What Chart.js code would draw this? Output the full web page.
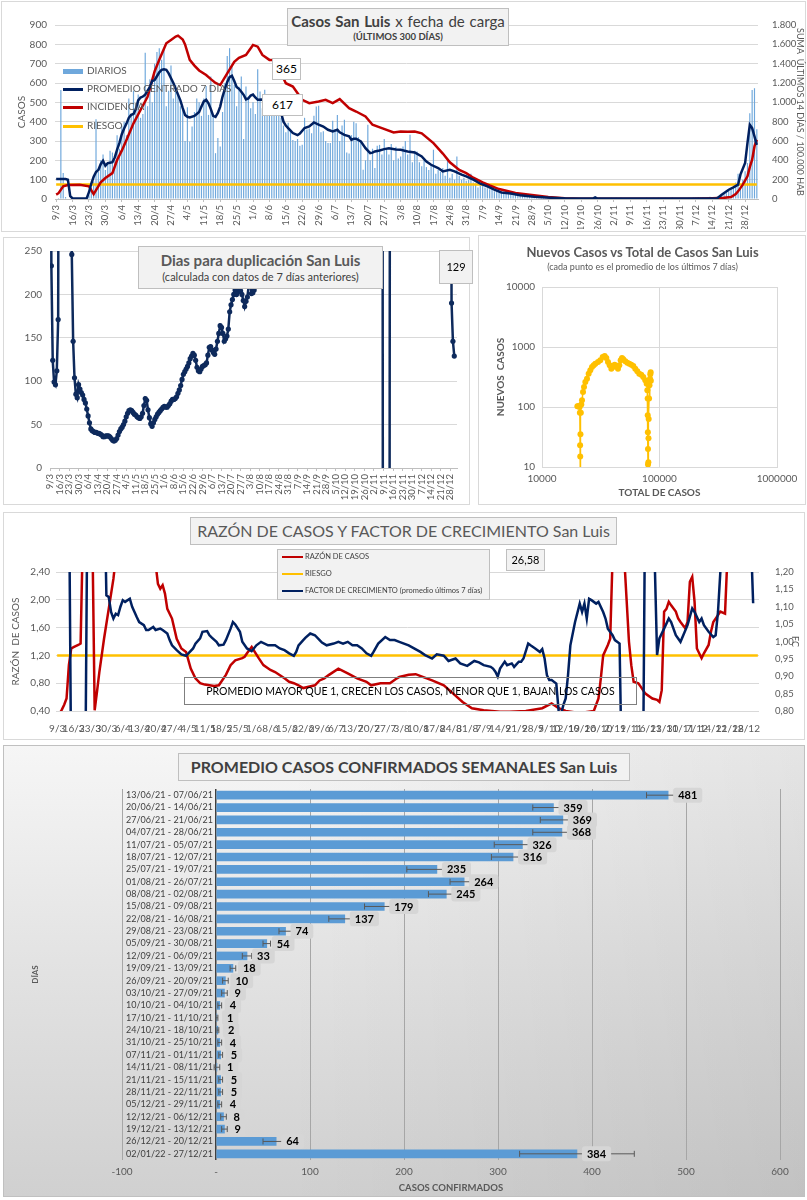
<!DOCTYPE html>
<html>
<head>
<meta charset="utf-8">
<title>Casos San Luis</title>
<script src="https://cdn.jsdelivr.net/npm/chart.js@4.4.0/dist/chart.umd.min.js"></script>
<style>
body{margin:0;width:807px;height:1200px;background:#fff;position:relative;overflow:hidden;font-family:Lato,"Liberation Sans",sans-serif;}
canvas{position:absolute;}
.frame{position:absolute;border:1px solid #d9d9d9;box-sizing:border-box;}
.box{position:absolute;background:#f2f2f2;border:1px solid #bfbfbf;box-sizing:border-box;text-align:center;color:#404040;white-space:nowrap;}
.leg{position:absolute;font-size:10px;color:#595959;white-space:nowrap;}
.sw{position:absolute;}
</style>
</head>
<body>

<div class="frame" style="left:1px;top:1px;width:805px;height:231px"></div>
<div class="frame" style="left:3px;top:237px;width:467px;height:268px"></div>
<div class="frame" style="left:478px;top:235px;width:328px;height:270px"></div>
<div class="frame" style="left:3px;top:512px;width:802px;height:228px"></div>
<div class="frame" style="left:3px;top:745px;width:802px;height:452px;border-color:#c0c0c0;background:linear-gradient(90deg,rgba(0,0,0,0) 35%,rgba(0,0,0,0.07) 100%),linear-gradient(180deg,#f6f6f6 0%,#e4e4e4 45%,#d0d0d0 100%)"></div>

<canvas id="c1" width="807" height="232" style="left:0;top:0"></canvas>
<canvas id="c2" width="467" height="268" style="left:3px;top:237px"></canvas>
<canvas id="c3" width="329" height="270" style="left:478px;top:235px"></canvas>
<canvas id="c4" width="802" height="228" style="left:3px;top:512px"></canvas>
<canvas id="c5" width="802" height="452" style="left:3px;top:745px"></canvas>

<!-- panel 1 -->
<div class="box" style="left:287px;top:8px;width:222px;height:38px">
  <div style="font-size:15px;line-height:19px;margin-top:3px;word-spacing:1px"><b>Casos San Luis</b> x fecha de carga</div>
  <div style="font-size:9.5px;font-weight:bold;line-height:12px">(ÚLTIMOS 300 DÍAS)</div>
</div>
<div class="box" style="left:272px;top:58px;width:29px;height:22px;background:#fff;color:#000;font-size:12px;line-height:20px">365</div>
<div class="box" style="left:262px;top:94px;width:41px;height:22px;background:#fff;color:#000;font-size:12px;line-height:20px">617</div>
<div class="sw" style="left:63px;top:69px;width:20px;height:5px;background:#6fa8dc"></div>
<div class="leg" style="left:87px;top:64px">DIARIOS</div>
<div class="sw" style="left:63px;top:88px;width:20px;height:3px;background:#002060"></div>
<div class="leg" style="left:87px;top:82px">PROMEDIO CENTRADO 7 DÍAS</div>
<div class="sw" style="left:63px;top:106px;width:20px;height:3px;background:#c00000"></div>
<div class="leg" style="left:87px;top:100px">INCIDENCIA</div>
<div class="sw" style="left:63px;top:125px;width:20px;height:3px;background:#ffc000"></div>
<div class="leg" style="left:87px;top:119px">RIESGO</div>

<!-- panel 2 -->
<div class="box" style="left:138px;top:246px;width:245px;height:43px;color:#595959">
  <div style="font-size:15px;font-weight:bold;line-height:20px;margin-top:3px">Dias para duplicación San Luis</div>
  <div style="font-size:11px;line-height:14px;color:#404040">(calculada con datos de 7 días anteriores)</div>
</div>
<div class="box" style="left:439px;top:250px;width:34px;height:34px;color:#000;font-size:11px;line-height:32px">129</div>

<!-- panel 3 -->
<div style="position:absolute;left:478px;top:243px;width:329px;text-align:center;color:#595959">
  <div style="font-size:13px;font-weight:bold;line-height:18px">Nuevos Casos vs Total de Casos San Luis</div>
  <div style="font-size:9px;line-height:12px">(cada punto es el promedio de los últimos 7 días)</div>
</div>

<!-- panel 4 -->
<div class="box" style="left:190px;top:517px;width:427px;height:28px;color:#595959;font-size:16px;line-height:26px">RAZÓN DE CASOS Y FACTOR DE CRECIMIENTO San Luis</div>
<div class="box" style="left:277px;top:549px;width:213px;height:51px"></div>
<div class="sw" style="left:282px;top:556px;width:21px;height:2px;background:#c00000"></div>
<div class="leg" style="left:305px;top:552px;font-size:7.5px;color:#404040">RAZÓN DE CASOS</div>
<div class="sw" style="left:282px;top:573px;width:21px;height:2px;background:#ffc000"></div>
<div class="leg" style="left:305px;top:569px;font-size:7.5px;color:#404040">RIESGO</div>
<div class="sw" style="left:282px;top:590px;width:21px;height:2px;background:#002060"></div>
<div class="leg" style="left:305px;top:586px;font-size:7.5px;color:#404040">FACTOR DE CRECIMIENTO (promedio últimos 7 días)</div>
<div class="box" style="left:506px;top:549px;width:39px;height:22px;color:#000;font-size:11px;line-height:20px">26,58</div>
<div class="box" style="left:184px;top:677px;width:453px;height:28px;background:transparent;border-color:#7f7f7f;color:#000;font-size:10.5px;line-height:26px">PROMEDIO MAYOR QUE 1, CRECEN LOS CASOS, MENOR QUE 1, BAJAN LOS CASOS</div>

<!-- panel 5 -->
<div class="box" style="left:178px;top:753px;width:452px;height:28px;font-size:16px;font-weight:bold;line-height:26px">PROMEDIO CASOS CONFIRMADOS SEMANALES San Luis</div>

<script>
// etiquetas semanales del eje x (cada 7 dias desde el 9/3)
const semanasEje = ['9/3','16/3','23/3','30/3','6/4','13/4','20/4','27/4','4/5','11/5','18/5','25/5','1/6','8/6','15/6','22/6','29/6','6/7','13/7','20/7','27/7','3/8','10/8','17/8','24/8','31/8','7/9','14/9','21/9','28/9','5/10','12/10','19/10','26/10','2/11','9/11','16/11','23/11','30/11','7/12','14/12','21/12','28/12'];

// casos diarios (ultimos 300 dias)
const diarios = [
  0,5,564,134,10,0,0,
  0,0,0,0,0,0,0,
  20,60,90,413,140,200,230,
  150,180,250,240,200,330,260,
  380,400,330,520,430,560,470,
  540,420,440,757,480,620,500,
  700,760,780,720,771,480,560,
  690,520,590,540,480,470,300,
  475,298,375,450,520,500,430,
  520,585,435,633,430,237,315,
  272,450,600,740,780,685,590,
  480,580,633,310,582,530,470,
  500,440,671,556,470,565,430,
  520,480,440,510,430,420,380,
  345,395,360,305,300,310,275,
  280,420,360,365,340,430,478,
  482,345,350,300,290,290,405,
  360,435,300,380,410,240,235,
  330,400,392,320,300,151,200,
  384,200,260,160,275,280,230,
  310,260,230,285,200,270,210,
  220,272,300,230,332,190,250,
  246,190,170,200,165,150,180,
  255,130,150,140,160,120,212,
  110,130,100,220,120,100,110,
  95,100,130,85,80,60,75,
  70,60,55,50,65,40,45,
  35,30,28,40,25,30,20,
  25,20,30,15,18,12,10,
  10,12,8,15,6,8,5,
  9,6,5,3,7,2,4,
  3,2,4,1,3,2,1,
  2,1,3,0,2,1,2,
  3,6,2,5,4,3,6,
  5,7,4,6,3,5,1,
  2,0,1,2,1,0,4,
  6,5,4,7,3,6,5,
  4,6,5,3,7,4,5,
  3,5,4,2,6,4,7,
  8,10,6,9,7,8,11,
  7,9,12,8,20,30,35,
  45,50,60,85,130,60,100,
  143,186,444,564,573,361
];

// promedio centrado 7 dias (dia, valor)
const promDia = [0,4,5,6,7,13,14,15,16,17,18,19,20,21,22,24,25,26,27,28,29,30,31,32,33,34,35,36,37,38,40,41,42,43,44,45,46,47,48,50,52,53,54,55,56,57,59,60,61,62,63,64,65,66,67,68,69,70,71,72,73,74,75,76,77,78,79,80,81,82,83,84,85,86,88,90,92,94,96,97,98,99,101,103,104,106,108,110,112,114,116,118,120,121,123,125,126,127,128,130,132,134,135,136,138,140,142,145,147,150,153,156,158,160,163,165,168,170,173,175,178,181,184,187,190,194,198,204,211,218,229,230,231,278,282,284,287,289,291,292,294,295,296,297,298,299];
const promVal = [103,103,100,15,3,3,35,80,115,140,150,180,198,172,185,190,215,255,290,335,365,390,420,435,440,465,510,525,530,540,580,610,615,635,655,668,671,668,650,600,540,510,470,435,425,422,430,440,450,478,505,513,495,465,430,425,445,478,530,570,605,630,637,610,580,570,555,539,515,520,535,540,525,513,515,510,500,470,444,400,380,367,341,330,338,367,375,396,385,375,358,350,358,345,332,324,306,312,312,298,263,237,240,246,251,258,263,256,255,246,241,220,194,177,160,143,151,143,126,117,100,79,65,48,34,28,19,12,7,3,2,8,2,2,3,22,48,60,74,126,186,289,384,367,324,280];

// incidencia: suma ultimos 14 dias / 100.000 hab (dia, valor)
const incDia = [0,1,3,5,10,14,16,19,21,24,26,28,30,33,36,39,42,44,47,49,51,52,54,55,56,57,59,61,64,66,68,70,73,76,78,81,84,86,88,91,93,96,98,101,105,108,112,115,118,121,125,128,132,135,139,144,147,150,153,156,161,165,168,172,175,178,182,185,189,196,203,210,217,224,270,280,285,288,290,291,293,295,296,297,298,299];
const incVal = [45,60,131,145,148,131,50,172,217,268,403,500,610,783,921,1058,1320,1440,1611,1645,1680,1690,1650,1600,1520,1440,1380,1330,1283,1240,1200,1179,1300,1420,1460,1490,1594,1576,1490,1439,1439,1301,1198,1163,1026,991,1008,1026,991,1033,940,905,854,768,733,688,699,695,699,680,578,470,380,300,268,220,172,140,103,62,41,21,7,2,3,8,12,20,50,79,148,234,330,406,544,613];

const riesgoDia = [0,299];
const riesgoInc = [150,150];

// dias para duplicacion (999 / -999 = fuera de escala)
const dupInicio = [
  999,233,124,99,96,112,171,999,999,999,
  999,999,999,999,999,999,246,146,104,85,
  81,96,91,87,84,79,75,68,60,52,
  45,43,42,41,41,40,40,39,38,36,
  36,37,37,37,36,34,32,31,32,34,
  38,42,45,47,50,54,59,63,66,67,
  66,64,62,61,59,58,57,59,63,72,
  80,78,67,58,51,48,52,56,59,62,
  64,66,68,70,71,70,70,72,74,77,
  79,79,80,82,86,90,95,102,108,111,
  114,117,121,126,129,132,130,124,116,112,
  111,114,117,118,119,121,130,139,140,136,
  133,131,137,146,155,164,162,155,146,149,
  152,160,180,188,194,200,205,200,203,205,
  204,200,193,186,192,197,210,215,201,202,
  205,215,230,245,999
];
const dupFinDia = [244,245,249,250,294,295,296,297];
const dupFinVal = [999,-999,-999,999,999,190,146,129];

// nuevos casos vs total (promedio 7 dias)
const totales = [20000,20300,20600,20900,21000,21100,21150,21200,21250,21400,21600,21890,22340,22780,23380,24150,24950,25770,26640,27530,28430,29970,31370,32840,34150,35280,36450,37660,38910,40180,41500,42920,44330,45500,46720,47960,49210,51170,53210,55330,57540,59830,62210,64700,67270,69950,72740,75640,77770,78800,79300,79400,79600,79800,79850,80000,80300,80400,80600,80900,81500,82200,83000,83500,84100,84400];
const nuevos = [103,103,103,100,80,23,15,3,35,80,110,129,178,215,261,297,359,409,464,495,527,562,600,681,708,656,562,495,435,464,508,482,435,495,600,656,623,577,548,527,508,482,435,393,359,346,316,278,245,190,138,73,38,20,11,5,3,12,30,63,138,230,297,350,380,274];

// razon de casos (eje izq) y factor de crecimiento (eje der)
const razonDia = [0,2,3,4,5,6,7,9,10,11,15,16,17,18,20,22,24,25,41,43,44,45,46,47,49,51,53,55,57,59,61,63,65,67,69,72,74,76,79,80,81,83,86,88,91,93,97,99,101,103,105,110,112,114,116,120,124,128,132,134,138,142,145,146,150,153,156,160,165,169,173,177,182,189,193,200,207,211,214,217,223,229,231,232,233,235,236,237,242,243,244,245,246,248,249,251,254,256,257,258,259,260,261,262,264,265,266,268,269,270,271,272,273,275,276,278,279,280,282,283,285,286,299];
const razonVal = [0.3,0.42,0.49,0.58,1.06,1.30,1.32,1.35,1.37,3,3,0.41,0.68,0.96,1.44,1.87,2.30,2.6,2.8,2.23,2.16,2.21,2.09,1.87,1.73,1.44,1.30,1.25,1.01,0.87,0.80,0.78,0.77,0.76,0.77,0.92,1.06,1.13,1.16,1.18,1.23,1.32,1.16,1.06,0.99,0.96,0.87,0.82,0.80,0.77,0.73,0.77,0.84,0.87,0.92,1.01,0.94,0.87,0.82,0.77,0.80,0.80,0.87,0.89,0.92,0.93,0.89,0.84,0.77,0.65,0.53,0.44,0.41,0.39,0.39,0.40,0.44,0.51,0.44,0.40,0.37,0.40,0.58,0.87,1.20,1.35,1.44,2.6,2.6,2.0,1.4,1.06,0.82,0.80,0.75,0.65,0.58,0.56,0.53,0.70,1.83,1.87,1.97,1.92,1.83,1.73,1.68,1.59,1.68,2.26,2.33,1.97,1.30,1.16,1.23,1.35,1.54,1.68,1.78,1.83,1.80,2.6,3];
const fcDia = [0,5,6,12,13,20,21,22,23,24,25,26,27,28,29,31,32,33,34,35,37,38,39,41,42,44,45,47,48,49,51,53,55,56,58,59,61,62,64,65,66,68,69,71,72,74,75,76,78,79,81,83,85,87,90,93,95,97,99,101,102,103,105,106,108,110,112,113,115,118,120,122,124,126,128,130,132,134,135,137,140,142,144,146,150,155,157,160,162,165,167,170,172,175,178,180,182,185,186,187,188,189,191,192,194,195,197,198,199,201,202,204,206,207,208,209,210,211,213,214,215,216,217,218,219,221,223,224,225,226,227,228,230,231,233,234,235,237,238,240,241,242,250,251,254,256,257,259,261,262,264,266,269,271,272,274,275,276,278,280,281,282,283,284,295,297];
const fcVal = [1.5,1.5,0.6,0.6,1.5,1.5,1.133,1.128,1.085,1.066,1.08,1.076,1.10,1.119,1.114,1.123,1.10,1.085,1.07,1.056,1.047,1.033,1.033,1.042,1.033,1.037,1.033,1.023,1.004,0.989,0.975,0.963,0.959,0.966,0.98,0.994,1.009,1.028,1.03,1.018,1.011,0.999,0.989,0.991,1.004,1.037,1.056,1.049,1.028,0.999,0.98,0.972,0.989,0.999,0.989,0.989,0.98,0.975,0.966,0.959,0.97,0.989,1.004,1.011,1.023,1.018,1.004,0.997,0.989,0.994,0.999,0.994,0.999,0.989,0.989,0.98,0.966,0.959,0.97,0.994,1.013,1.004,1.004,0.999,0.989,0.97,0.961,0.951,0.963,0.959,0.944,0.951,0.937,0.93,0.944,0.94,0.932,0.927,0.922,0.913,0.899,0.922,0.942,0.932,0.937,0.927,0.942,0.942,0.951,0.994,0.989,0.98,0.97,0.978,0.951,0.903,0.889,0.889,0.879,0.80,0.79,0.817,0.836,0.903,0.989,1.056,1.109,1.085,1.109,1.066,1.123,1.119,1.109,1.114,1.085,1.066,1.037,1.018,1.004,0.994,0.6,0.6,0.6,1.5,1.5,0.961,1.009,1.037,1.066,1.056,1.018,0.999,1.047,1.095,1.085,1.056,1.066,1.047,1.028,1.013,1.018,1.085,1.2,1.5,1.5,1.11];
const riesgoRazon = [1.2,1.2];

// promedio semanal de casos confirmados
const semanas = ['13/06/21 - 07/06/21','20/06/21 - 14/06/21','27/06/21 - 21/06/21','04/07/21 - 28/06/21','11/07/21 - 05/07/21','18/07/21 - 12/07/21','25/07/21 - 19/07/21','01/08/21 - 26/07/21','08/08/21 - 02/08/21','15/08/21 - 09/08/21','22/08/21 - 16/08/21','29/08/21 - 23/08/21','05/09/21 - 30/08/21','12/09/21 - 06/09/21','19/09/21 - 13/09/21','26/09/21 - 20/09/21','03/10/21 - 27/09/21','10/10/21 - 04/10/21','17/10/21 - 11/10/21','24/10/21 - 18/10/21','31/10/21 - 25/10/21','07/11/21 - 01/11/21','14/11/21 - 08/11/21','21/11/21 - 15/11/21','28/11/21 - 22/11/21','05/12/21 - 29/11/21','12/12/21 - 06/12/21','19/12/21 - 13/12/21','26/12/21 - 20/12/21','02/01/22 - 27/12/21'];
const promSem = [481,359,369,368,326,316,235,264,245,179,137,74,54,33,18,10,9,4,1,2,4,5,1,5,5,4,8,9,64,384];
const errSem = [23,22,24,31,30,23,32,15,19,21,17,7,4,5,3,3,3,2,1,1,2,2,3,2,2,2,3,3,14,61];

Chart.defaults.font.family = 'Lato, "Liberation Sans", sans-serif';
Chart.defaults.color = '#595959';
Chart.defaults.animation = false;
Chart.defaults.responsive = false;
Chart.defaults.plugins.legend.display = false;
Chart.defaults.plugins.tooltip.enabled = false;

function puntos(xs, ys){ return xs.map(function(x, i){ return {x: x, y: ys[i]}; }); }
function miles(v){ return String(v).replace(/\B(?=(\d{3})+(?!\d))/g, '.'); }
function coma(v){ return v.toFixed(2).replace('.', ','); }
function ticksSemana(s){ s.ticks = semanasEje.map(function(t, i){ return {value: i * 7}; }); }
function etiquetaSemana(v, i){ return semanasEje[i]; }

// 1. casos diarios
new Chart(document.getElementById('c1'), {
  type: 'bar',
  data: {datasets: [
    {type:'line', data:puntos(promDia, promVal), borderColor:'#002060', borderWidth:2.5, pointRadius:0, yAxisID:'y', order:1},
    {type:'line', data:puntos(incDia, incVal), borderColor:'#c00000', borderWidth:2.5, pointRadius:0, yAxisID:'y1', order:2},
    {type:'line', data:puntos(riesgoDia, riesgoInc), borderColor:'#ffc000', borderWidth:2.5, pointRadius:0, yAxisID:'y1', order:3},
    {type:'bar', data:diarios.map(function(v, i){ return {x:i, y:v}; }), backgroundColor:'#6fa8dc', barPercentage:0.5, categoryPercentage:1, yAxisID:'y', order:4}
  ]},
  options: {
    layout: {padding: {left:12, top:25, right:0, bottom:3}},
    scales: {
      x: {type:'linear', min:-0.5, max:299.5, offset:false, afterBuildTicks:ticksSemana,
          afterFit: function(s){ s.height = 30; },
          ticks: {autoSkip:false, maxRotation:90, minRotation:90, font:{size:9.5}, callback:etiquetaSemana},
          grid: {offset:false, drawOnChartArea:false, tickLength:3, color:'#bfbfbf'}, border: {color:'#bfbfbf'}},
      y: {min:0, max:900, ticks:{stepSize:100, padding:8, font:{size:10}}, grid:{color:'#d9d9d9', drawTicks:false}, border:{display:false},
          title: {display:true, text:'CASOS', font:{size:10}}, afterFit: function(s){ s.width = 43; }},
      y1: {position:'right', min:0, max:1800, ticks:{stepSize:200, padding:6, font:{size:9.5}, callback:miles}, grid:{display:false}, border:{display:false},
          title: {display:true, text:'SUMA  ÚLTIMOS 14 DÍAS / 100.000 HAB', font:{size:9}, padding:{top:2, bottom:1}}, afterFit: function(s){ s.width = 49; }}
    }
  }
});

// 2. dias para duplicacion
new Chart(document.getElementById('c2'), {
  type: 'line',
  data: {datasets: [{
    data: dupInicio.map(function(v, i){ return {x:i, y:v}; }).concat(puntos(dupFinDia, dupFinVal)),
    borderColor:'#0e2a5c', backgroundColor:'#0e2a5c', borderWidth:2.5, pointRadius:2.6, pointBorderWidth:0
  }]},
  options: {
    layout: {padding: {left:0, top:12, right:13, bottom:2}},
    scales: {
      x: {type:'linear', min:0, max:299, afterBuildTicks:ticksSemana, afterFit: function(s){ s.height = 35; },
          ticks: {autoSkip:false, maxRotation:90, minRotation:90, font:{size:9.5}, callback:etiquetaSemana},
          grid: {drawOnChartArea:false, tickLength:3, color:'#bfbfbf'}, border: {color:'#bfbfbf'}},
      y: {min:0, max:250, ticks:{stepSize:50, padding:8, font:{size:10}}, grid:{color:'#d9d9d9', drawTicks:false}, border:{display:false},
          afterFit: function(s){ s.width = 47; }}
    }
  }
});

// 3. nuevos casos vs total
function decadas(vals){ return function(s){ s.ticks = vals.map(function(v){ return {value:v}; }); }; }
new Chart(document.getElementById('c3'), {
  type: 'scatter',
  data: {datasets: [{data:puntos(totales, nuevos), showLine:true, borderColor:'#ffc000', backgroundColor:'#ffc000', borderWidth:1.5, pointRadius:3, pointBorderWidth:0}]},
  options: {
    layout: {padding: {left:13, top:52, right:30, bottom:2}},
    scales: {
      x: {type:'logarithmic', min:10000, max:1000000, afterBuildTicks:decadas([10000,100000,1000000]),
          ticks: {autoSkip:false, maxRotation:0, padding:6, font:{size:10}, callback:function(v){ return String(v); }},
          grid: {color:'#d9d9d9', drawTicks:false}, border: {color:'#d9d9d9'},
          title: {display:true, text:'TOTAL DE CASOS', font:{size:10, weight:'bold'}}, afterFit: function(s){ s.height = 36; }},
      y: {type:'logarithmic', min:10, max:10000, afterBuildTicks:decadas([10,100,1000,10000]),
          ticks: {padding:7, font:{size:10}, callback:function(v){ return String(v); }},
          grid: {color:'#d9d9d9', drawTicks:false}, border: {color:'#d9d9d9'},
          title: {display:true, text:'NUEVOS  CASOS', font:{size:10, weight:'bold'}}, afterFit: function(s){ s.width = 51; }}
    }
  }
});

// 4. razon de casos y factor de crecimiento
new Chart(document.getElementById('c4'), {
  type: 'line',
  data: {datasets: [
    {data:puntos(fcDia, fcVal), yAxisID:'y1', borderColor:'#002060', borderWidth:2.5, pointRadius:0, order:1},
    {data:puntos(razonDia, razonVal), yAxisID:'y', borderColor:'#c00000', borderWidth:2.5, pointRadius:0, order:2},
    {data:puntos(riesgoDia, riesgoRazon), yAxisID:'y', borderColor:'#ffc000', borderWidth:2.5, pointRadius:0, order:3}
  ]},
  options: {
    layout: {padding: {left:3, top:60, right:4, bottom:5}},
    scales: {
      x: {type:'linear', min:-0.5, max:299.5, afterBuildTicks:ticksSemana, afterFit: function(s){ s.height = 24; },
          ticks: {autoSkip:false, maxRotation:0, minRotation:0, padding:4, font:{size:10}, callback:etiquetaSemana},
          grid: {display:false}, border: {display:false}},
      y: {min:0.4, max:2.4, ticks:{stepSize:0.2, padding:6, font:{size:10}, callback:coma}, grid:{color:'#d9d9d9', drawTicks:false}, border:{display:false},
          title: {display:true, text:'RAZÓN  DE CASOS', font:{size:10}}, afterFit: function(s){ s.width = 50; }},
      y1: {position:'right', min:0.8, max:1.2, ticks:{stepSize:0.05, padding:8, font:{size:9.5}, callback:coma}, grid:{display:false}, border:{display:false},
          title: {display:true, text:'FC', font:{size:9}, padding:{top:1, bottom:2}}, afterFit: function(s){ s.width = 42; }}
    }
  }
});

// 5. promedio semanal con barras de error y etiquetas
const barrasError = {
  id: 'barrasError',
  afterDatasetsDraw: function(chart){
    const ctx = chart.ctx, x = chart.scales.x, y = chart.scales.y;
    ctx.save();
    promSem.forEach(function(v, i){
      const py = y.getPixelForValue(i);
      const a = x.getPixelForValue(v - errSem[i]), b = x.getPixelForValue(v + errSem[i]);
      ctx.strokeStyle = '#595959';
      ctx.lineWidth = 1;
      ctx.beginPath();
      ctx.moveTo(a, py); ctx.lineTo(b, py);
      ctx.moveTo(a, py - 3); ctx.lineTo(a, py + 3);
      ctx.moveTo(b, py - 3); ctx.lineTo(b, py + 3);
      ctx.stroke();
      ctx.font = 'bold 11px Lato, "Liberation Sans", sans-serif';
      const t = String(v), w = ctx.measureText(t).width + 10;
      const bx = x.getPixelForValue(v) + 5;
      ctx.fillStyle = '#d6d6d6';
      ctx.beginPath();
      ctx.roundRect(bx, py - 7.5, w, 15, 3);
      ctx.fill();
      ctx.fillStyle = '#000';
      ctx.textAlign = 'center';
      ctx.textBaseline = 'middle';
      ctx.fillText(t, bx + w / 2, py + 0.5);
    });
    ctx.restore();
  }
};

new Chart(document.getElementById('c5'), {
  type: 'bar',
  data: {labels: semanas, datasets: [{data: promSem, backgroundColor:'#5b9bd5', barThickness:8}]},
  plugins: [barrasError],
  options: {
    indexAxis: 'y',
    layout: {padding: {left:24, top:44, right:25, bottom:3}},
    scales: {
      x: {min:-100, max:600, ticks:{stepSize:100, padding:6, font:{size:10}, callback:function(v){ return v === 0 ? '-' : v; }},
          grid: {drawTicks:false, color:function(c){ return c.tick && c.tick.value === 0 ? '#404040' : '#a6a6a6'; },
                 lineWidth:function(c){ return c.tick && c.tick.value === 0 ? 1.5 : 1; }},
          border: {display:false},
          title: {display:true, text:'CASOS CONFIRMADOS', font:{size:9.5, weight:'bold'}, padding:{top:2, bottom:0}},
          afterFit: function(s){ s.height = 34; }},
      y: {ticks:{mirror:true, padding:4, autoSkip:false, font:{size:9}, color:'#404040'}, grid:{display:false}, border:{display:false},
          title: {display:true, text:'DÍAS', font:{size:8, weight:'bold'}}, afterFit: function(s){ s.width = 95; }}
    }
  }
});
</script>
</body>
</html>
